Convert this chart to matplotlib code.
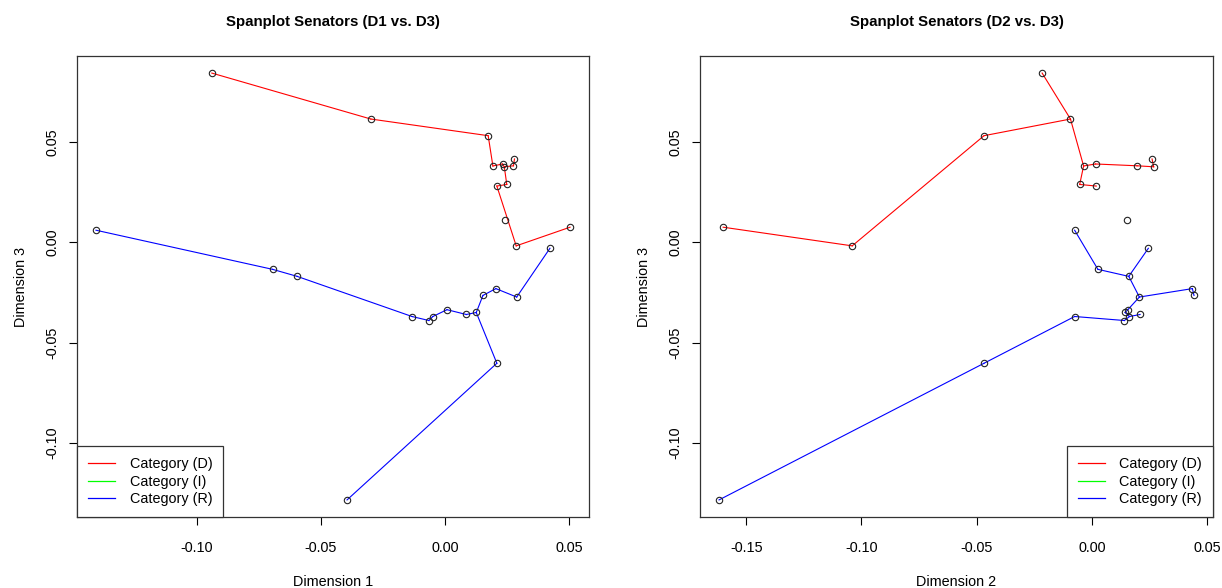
import numpy as np
import matplotlib
matplotlib.use("Agg")
import matplotlib.pyplot as plt
from matplotlib.lines import Line2D

plt.rcParams['font.family'] = ['Liberation Sans', 'DejaVu Sans']
plt.rcParams['axes.unicode_minus'] = False

# senator coordinates
dem_d1 = [-0.0940, -0.0299, 0.0174, 0.0193, 0.0232, 0.0239, 0.0276, 0.0280, 0.0249, 0.0209, 0.0287, 0.0504]
dem_d2 = [-0.0216, -0.0093, -0.0468, -0.0036, 0.0016, 0.0268, 0.0196, 0.0261, -0.0053, 0.0019, -0.1040, -0.1600]
dem_d3 = [0.0843, 0.0614, 0.0531, 0.0380, 0.0390, 0.0376, 0.0381, 0.0415, 0.0288, 0.0280, -0.0018, 0.0075]

ind_d1 = [0.0243]
ind_d2 = [0.0154]
ind_d3 = [0.0113]

rep_d1 = [-0.1407, -0.0695, -0.0596, -0.0133, -0.0065, -0.0049, 0.0008, 0.0086, 0.0126, 0.0153, 0.0205, 0.0289, 0.0423, 0.0209, -0.0395]
rep_d2 = [-0.0075, 0.0026, 0.0160, -0.0075, 0.0141, 0.0163, 0.0156, 0.0209, 0.0144, 0.0443, 0.0436, 0.0206, 0.0245, -0.0468, -0.1618]
rep_d3 = [0.0060, -0.0135, -0.0170, -0.0370, -0.0390, -0.0370, -0.0336, -0.0360, -0.0350, -0.0265, -0.0231, -0.0273, -0.0030, -0.0603, -0.1284]

categories = ["Category (D)", "Category (I)", "Category (R)"]
colors = ["#FF0000", "#00FF00", "#0000FF"]

FS = 10.4


def mst_edges(x, y):
    # prim, in data units
    pts = np.column_stack([x, y])
    n = len(pts)
    if n < 2:
        return []
    used = np.zeros(n, bool)
    used[0] = True
    dist = np.linalg.norm(pts - pts[0], axis=1)
    parent = np.zeros(n, int)
    edges = []
    for _ in range(n - 1):
        d = np.where(used, np.inf, dist)
        j = int(np.argmin(d))
        edges.append((parent[j], j))
        used[j] = True
        nd = np.linalg.norm(pts - pts[j], axis=1)
        upd = nd < dist
        dist = np.where(upd, nd, dist)
        parent = np.where(upd, j, parent)
    return edges


def spanplot(ax, xs, ys, title, xlab, xticks, legend_loc):
    for x, y, c in zip(xs, ys, colors):
        for a, b in mst_edges(x, y):
            ax.plot([x[a], x[b]], [y[a], y[b]], color=c, lw=0.8, zorder=2)
    for x, y in zip(xs, ys):
        ax.plot(x, y, "o", ms=4.6, mfc="none", mec="#222222", mew=0.8, zorder=3)
    ax.margins(0.04)
    ax.set_xticks(xticks)
    ax.set_yticks([-0.10, -0.05, 0.00, 0.05])
    ax.xaxis.set_major_formatter(plt.FormatStrFormatter("%.2f"))
    ax.yaxis.set_major_formatter(plt.FormatStrFormatter("%.2f"))
    ax.tick_params(direction="out", length=5.5, width=0.8, labelsize=FS)
    ax.tick_params(axis="x", pad=11.5)
    ax.tick_params(axis="y", pad=7)
    for lab in ax.get_yticklabels():
        lab.set_rotation(90)
        lab.set_va("center")
    for s in ax.spines.values():
        s.set_linewidth(0.9)
        s.set_color("#333333")
    ax.set_title(title, fontsize=10.8, fontweight="bold", pad=21.5)
    ax.set_xlabel(xlab, fontsize=FS, labelpad=14.5)
    ax.set_ylabel("Dimension 3", fontsize=FS, labelpad=13)
    handles = [Line2D([], [], color=c, lw=0.9) for c in colors]
    leg = ax.legend(handles, categories, loc=legend_loc, borderaxespad=0, fancybox=False,
                    framealpha=1, edgecolor="#333333", fontsize=FS, handlelength=1.9,
                    handletextpad=1.0, labelspacing=0.25, borderpad=0.75)
    leg.get_frame().set_linewidth(0.9)


fig = plt.figure(figsize=(12.22, 5.88), dpi=100)
ax1 = fig.add_axes([77 / 1222, 71 / 588, 512 / 1222, 461 / 588])
ax2 = fig.add_axes([700 / 1222, 71 / 588, 513 / 1222, 461 / 588])

spanplot(ax1, [dem_d1, ind_d1, rep_d1], [dem_d3, ind_d3, rep_d3],
         "Spanplot Senators (D1 vs. D3)", "Dimension 1", [-0.10, -0.05, 0.00, 0.05], "lower left")
spanplot(ax2, [dem_d2, ind_d2, rep_d2], [dem_d3, ind_d3, rep_d3],
         "Spanplot Senators (D2 vs. D3)", "Dimension 2", [-0.15, -0.10, -0.05, 0.00, 0.05], "lower right")

fig.savefig("out.png", dpi=100)
